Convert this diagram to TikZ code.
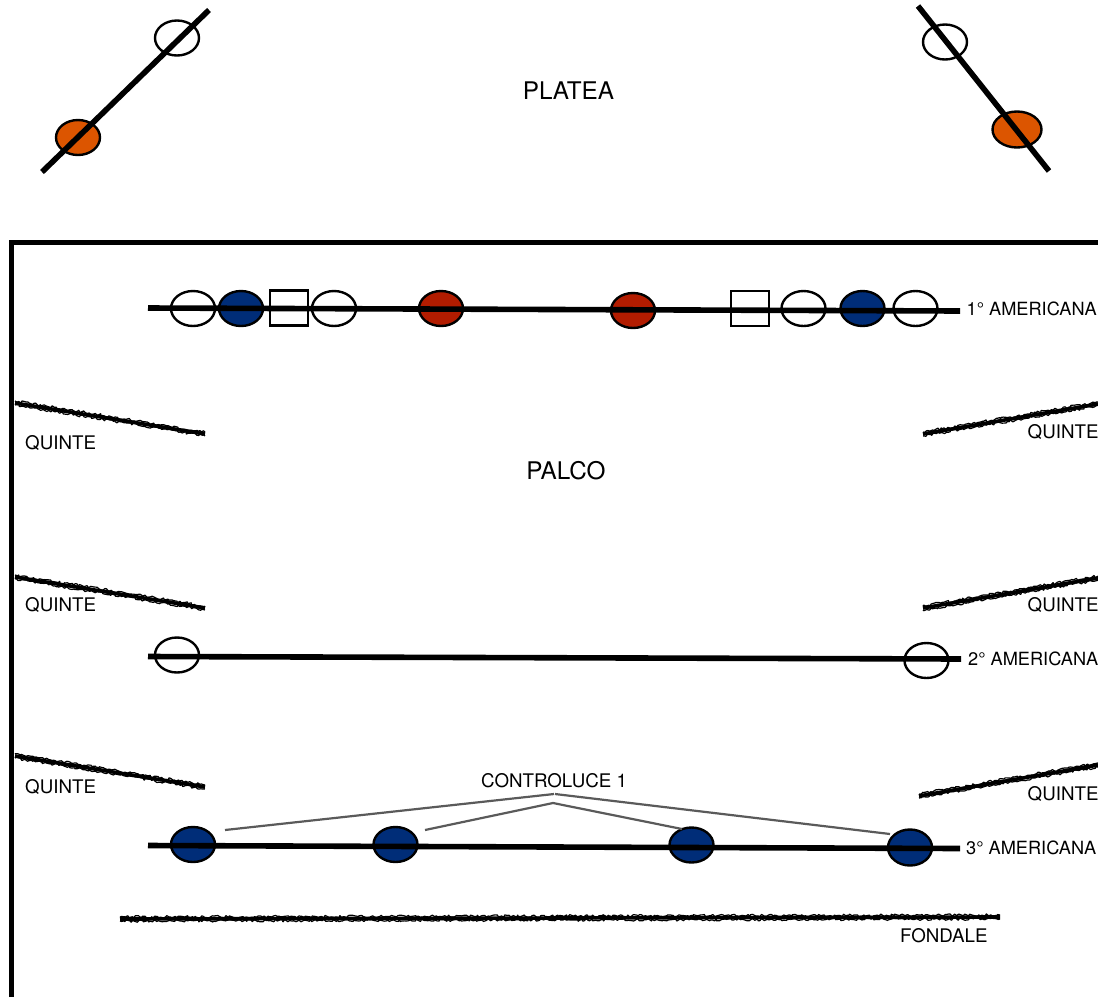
\documentclass[tikz,border=0pt]{standalone}
\usepackage{fontspec}
\setmainfont{TeX Gyre Heros}
\usetikzlibrary{shapes.geometric,decorations.pathmorphing,calc}
\definecolor{lampblue}{RGB}{0,45,120}
\definecolor{lampred}{RGB}{178,28,0}
\definecolor{lamporange}{RGB}{220,85,0}
\definecolor{leadgrey}{RGB}{90,90,90}
\pgfmathsetseed{42}
\tikzset{
  x=1pt,y=-1pt,
  lamp/.style={ellipse,draw=black,line width=2.4pt,minimum width=44pt,minimum height=35pt,inner sep=0pt,fill=white},
  lampw/.style={lamp,fill=white},
  lampb/.style={lamp,fill=lampblue},
  lampr/.style={lamp,fill=lampred},
  lampo/.style={lamp,fill=lamporange,minimum width=44pt},
  sqlamp/.style={rectangle,draw=black,line width=2.4pt,minimum width=38pt,minimum height=35pt,inner sep=0pt,fill=white},
  bar/.style={line width=5.6pt,black},
  roughcore/.style={line width=3.6pt,black},
  rough/.style={line width=1.2pt,black,line join=bevel,decorate,decoration={random steps,segment length=1.8pt,amplitude=1.3pt}},
  lead/.style={line width=2.2pt,leadgrey},
  small/.style={inner sep=0pt,anchor=west,font=\fontsize{18.75pt}{20pt}\selectfont},
  batten/.style={small,font=\fontsize{18.2pt}{20pt}\selectfont},
  big/.style={inner sep=0pt,font=\fontsize{24.3pt}{26pt}\selectfont},
}
\begin{document}
\begin{tikzpicture}
\useasboundingbox (0,0) rectangle (1098,997);
% front lamps
\node[lampo] (fl2) at (78,137.5) {};
\node[lampw] (fl1) at (177,38) {};
\node[lampw] (fr1) at (945,42) {};
\node[lampo,minimum width=49pt,minimum height=36pt] (fr2) at (1017,129.5) {};
\coordinate (fla) at (42,172); \coordinate (flb) at (209,10);
\coordinate (fra) at (918,6); \coordinate (frb) at (1049,171);
\draw[bar] (fla) -- (flb);
\draw[bar] (fra) -- (frb);
\node[big] (platea) at (568.5,91) {PLATEA};
% stage outline
\coordinate (s1) at (11.5,997); \coordinate (s2) at (11.5,242.5); \coordinate (s3) at (1098,242.5);
\draw[bar,miter limit=10] (s1) -- (s2) -- (s3);
% first batten
\node[lampw] (a1) at (193,308.5) {};
\node[lampb] (a2) at (241,308.5) {};
\node[sqlamp] (a3) at (289,308) {};
\node[lampw] (a4) at (334,308.5) {};
\node[lampr] (a5) at (441,308.5) {};
\node[lampr] (a6) at (633,310.5) {};
\node[sqlamp] (a7) at (750,308.5) {};
\node[lampw] (a8) at (803.5,308.5) {};
\node[lampb] (a9) at (862.5,308.5) {};
\node[lampw] (a10) at (915.5,308.5) {};
\coordinate (b1a) at (148,308); \coordinate (b1b) at (960,311);
\draw[bar] (b1a) -- (b1b);
\node[batten] (l1) at (966.5,308.5) {1° AMERICANA};
% second batten
\node[lampw] (c1) at (177,655) {};
\node[lampw] (c2) at (926.5,660.5) {};
\coordinate (b2a) at (148,656.5); \coordinate (b2b) at (961,659);
\draw[bar] (b2a) -- (b2b);
\node[batten] (l2) at (968,658.5) {2° AMERICANA};
% third batten
\node[lampb] (d1) at (193,844.5) {};
\node[lampb] (d2) at (395.5,844.5) {};
\node[lampb] (d3) at (691.5,845) {};
\node[lampb,minimum height=36pt] (d4) at (910,847.5) {};
\coordinate (b3a) at (148,845.5); \coordinate (b3b) at (960,848.5);
\draw[bar] (b3a) -- (b3b);
\node[batten] (l3) at (966,847.5) {3° AMERICANA};
% wings
\coordinate (q1a) at (15,403); \coordinate (q1b) at (205,434);
\coordinate (q2a) at (15,577); \coordinate (q2b) at (205,608);
\coordinate (q3a) at (15,756); \coordinate (q3b) at (205,787);
\coordinate (q4a) at (923,434); \coordinate (q4b) at (1098,404);
\coordinate (q5a) at (923,608); \coordinate (q5b) at (1098,578);
\coordinate (q6a) at (919,796); \coordinate (q6b) at (1098,765);
\coordinate (fa) at (120,919); \coordinate (fb) at (1000,917);
\foreach \p/\q in {q1a/q1b,q2a/q2b,q3a/q3b,q4a/q4b,q5a/q5b,q6a/q6b,fa/fb} {
  \draw[roughcore] (\p) -- (\q);
  \foreach \n in {-2,2}
    \draw[rough] ($(\p)+(0,\n)$) -- ($(\q)+(0,\n)$);
}
\node[small] (t1) at (25,442.5) {QUINTE};
\node[small] (t2) at (25,604.5) {QUINTE};
\node[small] (t3) at (25,786.5) {QUINTE};
\node[small] (t4) at (1027.5,431.5) {QUINTE};
\node[small] (t5) at (1027.5,604.5) {QUINTE};
\node[small] (t6) at (1027.5,794) {QUINTE};
\node[small] (t7) at (900,935.5) {FONDALE};
\node[big] (palco) at (566,470.5) {PALCO};
\node[small] (ctrl) at (481,780.5) {CONTROLUCE 1};
% leader lines
\coordinate (ha) at (225,830); \coordinate (hb) at (554,794); \coordinate (hc) at (555,794); \coordinate (hd) at (890,834);
\coordinate (ia) at (425,830); \coordinate (ib) at (553,803); \coordinate (ic) at (682,829);
\draw[lead] (ha) -- (hb);
\draw[lead] (hc) -- (hd);
\draw[lead] (ia) -- (ib) -- (ic);
\end{tikzpicture}
\end{document}
